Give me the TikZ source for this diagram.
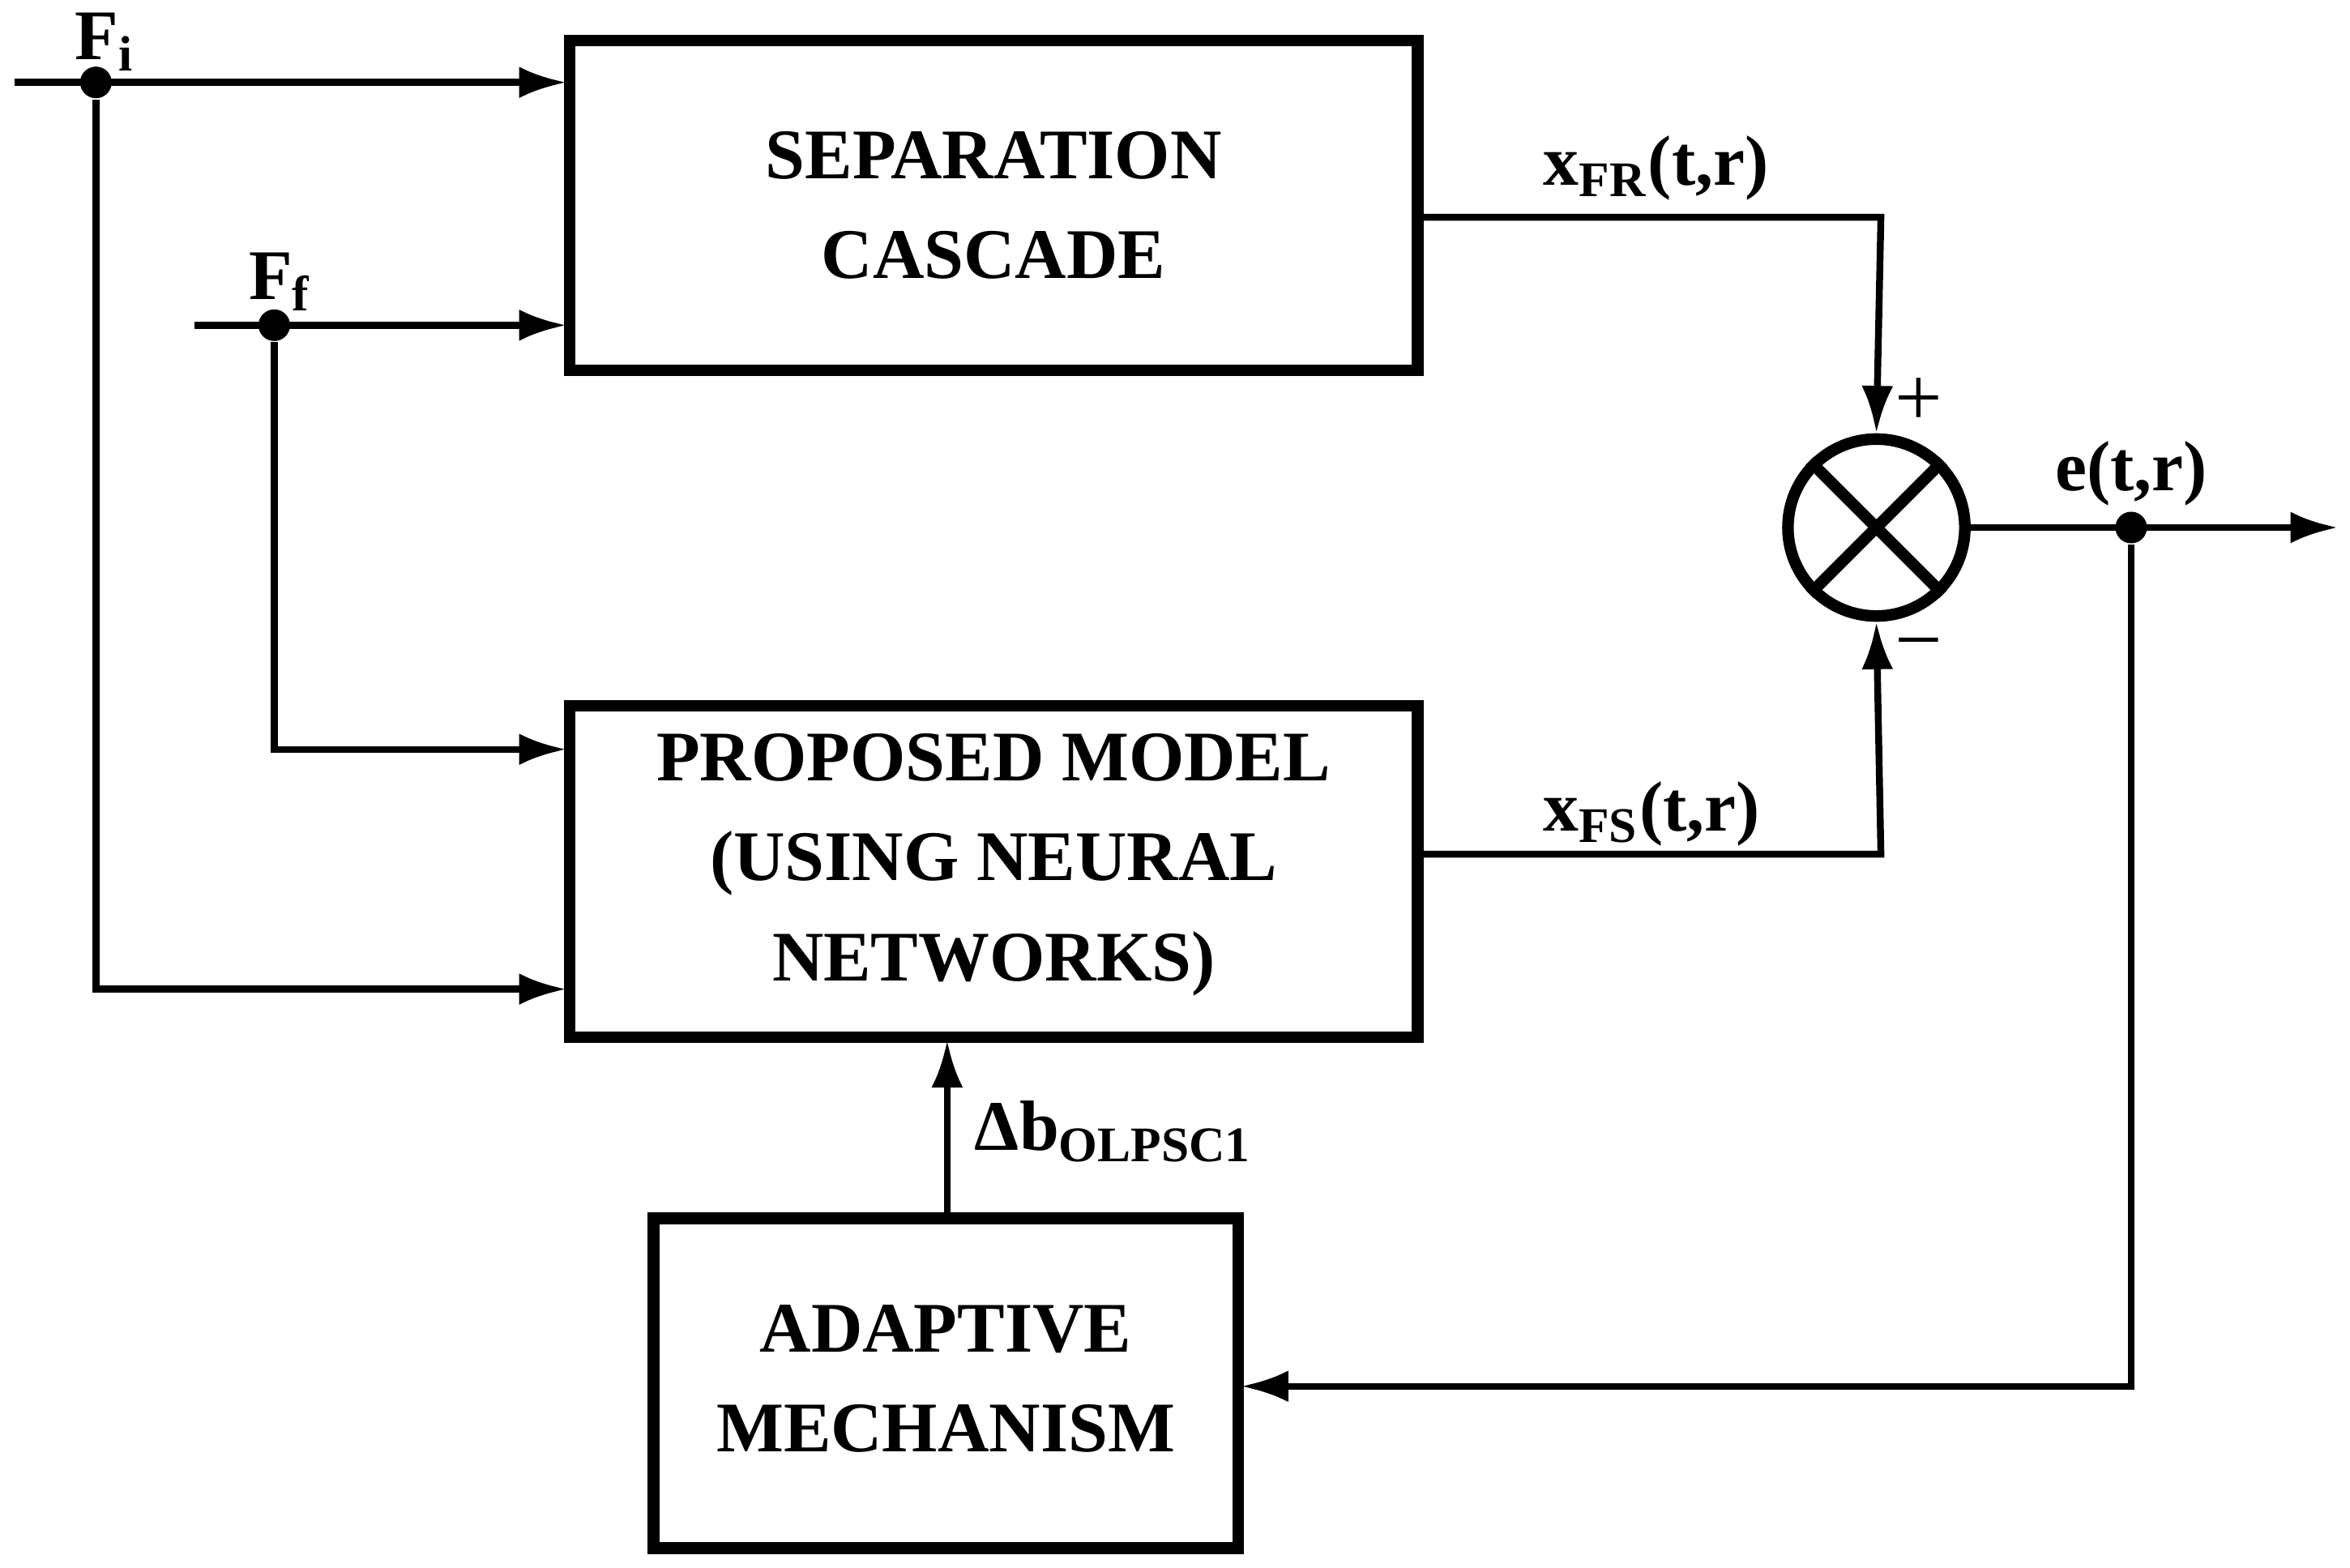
\documentclass[tikz,border=0pt]{standalone}
\usepackage{fontspec}
\setmainfont{Liberation Serif}
\usetikzlibrary{arrows.meta}
\begin{document}
\begin{tikzpicture}[x=0.01cm,y=-0.01cm,
  blk/.style={draw,line width=2.2pt,minimum width=566\pgflinewidth,align=center,font=\fontsize{13.5}{19}\selectfont\bfseries},
  ln/.style={line width=1.3pt},
  ar/.style={ln,-{Latex[length=9pt,width=6pt]}},
  lbl/.style={font=\fontsize{13.5}{16}\selectfont\bfseries},
  dot/.style={circle,fill,inner sep=0pt,minimum size=6pt}]
\useasboundingbox (0,0) rectangle (1568,1046);
\draw[blk] (380,27) rectangle (946,247);
\node[blk,draw=none] (sep) at (663,137) {SEPARATION\\CASCADE};
\draw[blk] (380,471) rectangle (946,692);
\node[blk,draw=none] (pm) at (663,577) {PROPOSED MODEL\\(USING NEURAL\\NETWORKS)};
\draw[blk] (436,813) rectangle (826,1033);
\node[blk,draw=none] (ad) at (631,920) {ADAPTIVE\\MECHANISM};
\node[draw,circle,line width=2.2pt,minimum size=1.18cm,inner sep=0pt] (c) at (1252,352) {};
\draw[line width=2.2pt] (c.north west)--(c.south east) (c.north east)--(c.south west);
% Fi
\coordinate (fi0) at (10,55);
\node[dot] (fi) at (64,55) {};
\draw[ar] (fi0) -- (378,55);
\draw[ar] (fi) -- (64,660) -- (378,660);
\node[lbl] at (70,28) {F\textsubscript{i}};
% Ff
\coordinate (ff0) at (130,217);
\node[dot] (ff) at (183,217) {};
\draw[ar] (ff0) -- (378,217);
\draw[ar] (ff) -- (183,500) -- (378,500);
\node[lbl] at (187,188) {F\textsubscript{f}};
% outputs
\draw[ar] (947,145) -- (1255,145) -- (c.north);
\draw[ar] (947,570) -- (1255,570) -- (c.south);
\node[lbl] at (1105,112) {x\textsubscript{FR}(t,r)};
\node[lbl] at (1102,543) {x\textsubscript{FS}(t,r)};
\node[font=\fontsize{16}{16}\selectfont] at (1280,268) {+};
\node[font=\fontsize{16}{16}\selectfont] at (1280,436) {\textminus};
% error
\node[dot] (e) at (1422,352) {};
\draw[ar] (c.east) -- (1560,352);
\node[lbl] at (1422,316) {e(t,r)};
\draw[ar] (e) -- (1422,925) -- (828,925);
% delta b
\draw[ar] (632,813) -- (632,694);
\node[lbl,anchor=west] at (638,755) {Δb\textsubscript{OLPSC1}};
\end{tikzpicture}
\end{document}
